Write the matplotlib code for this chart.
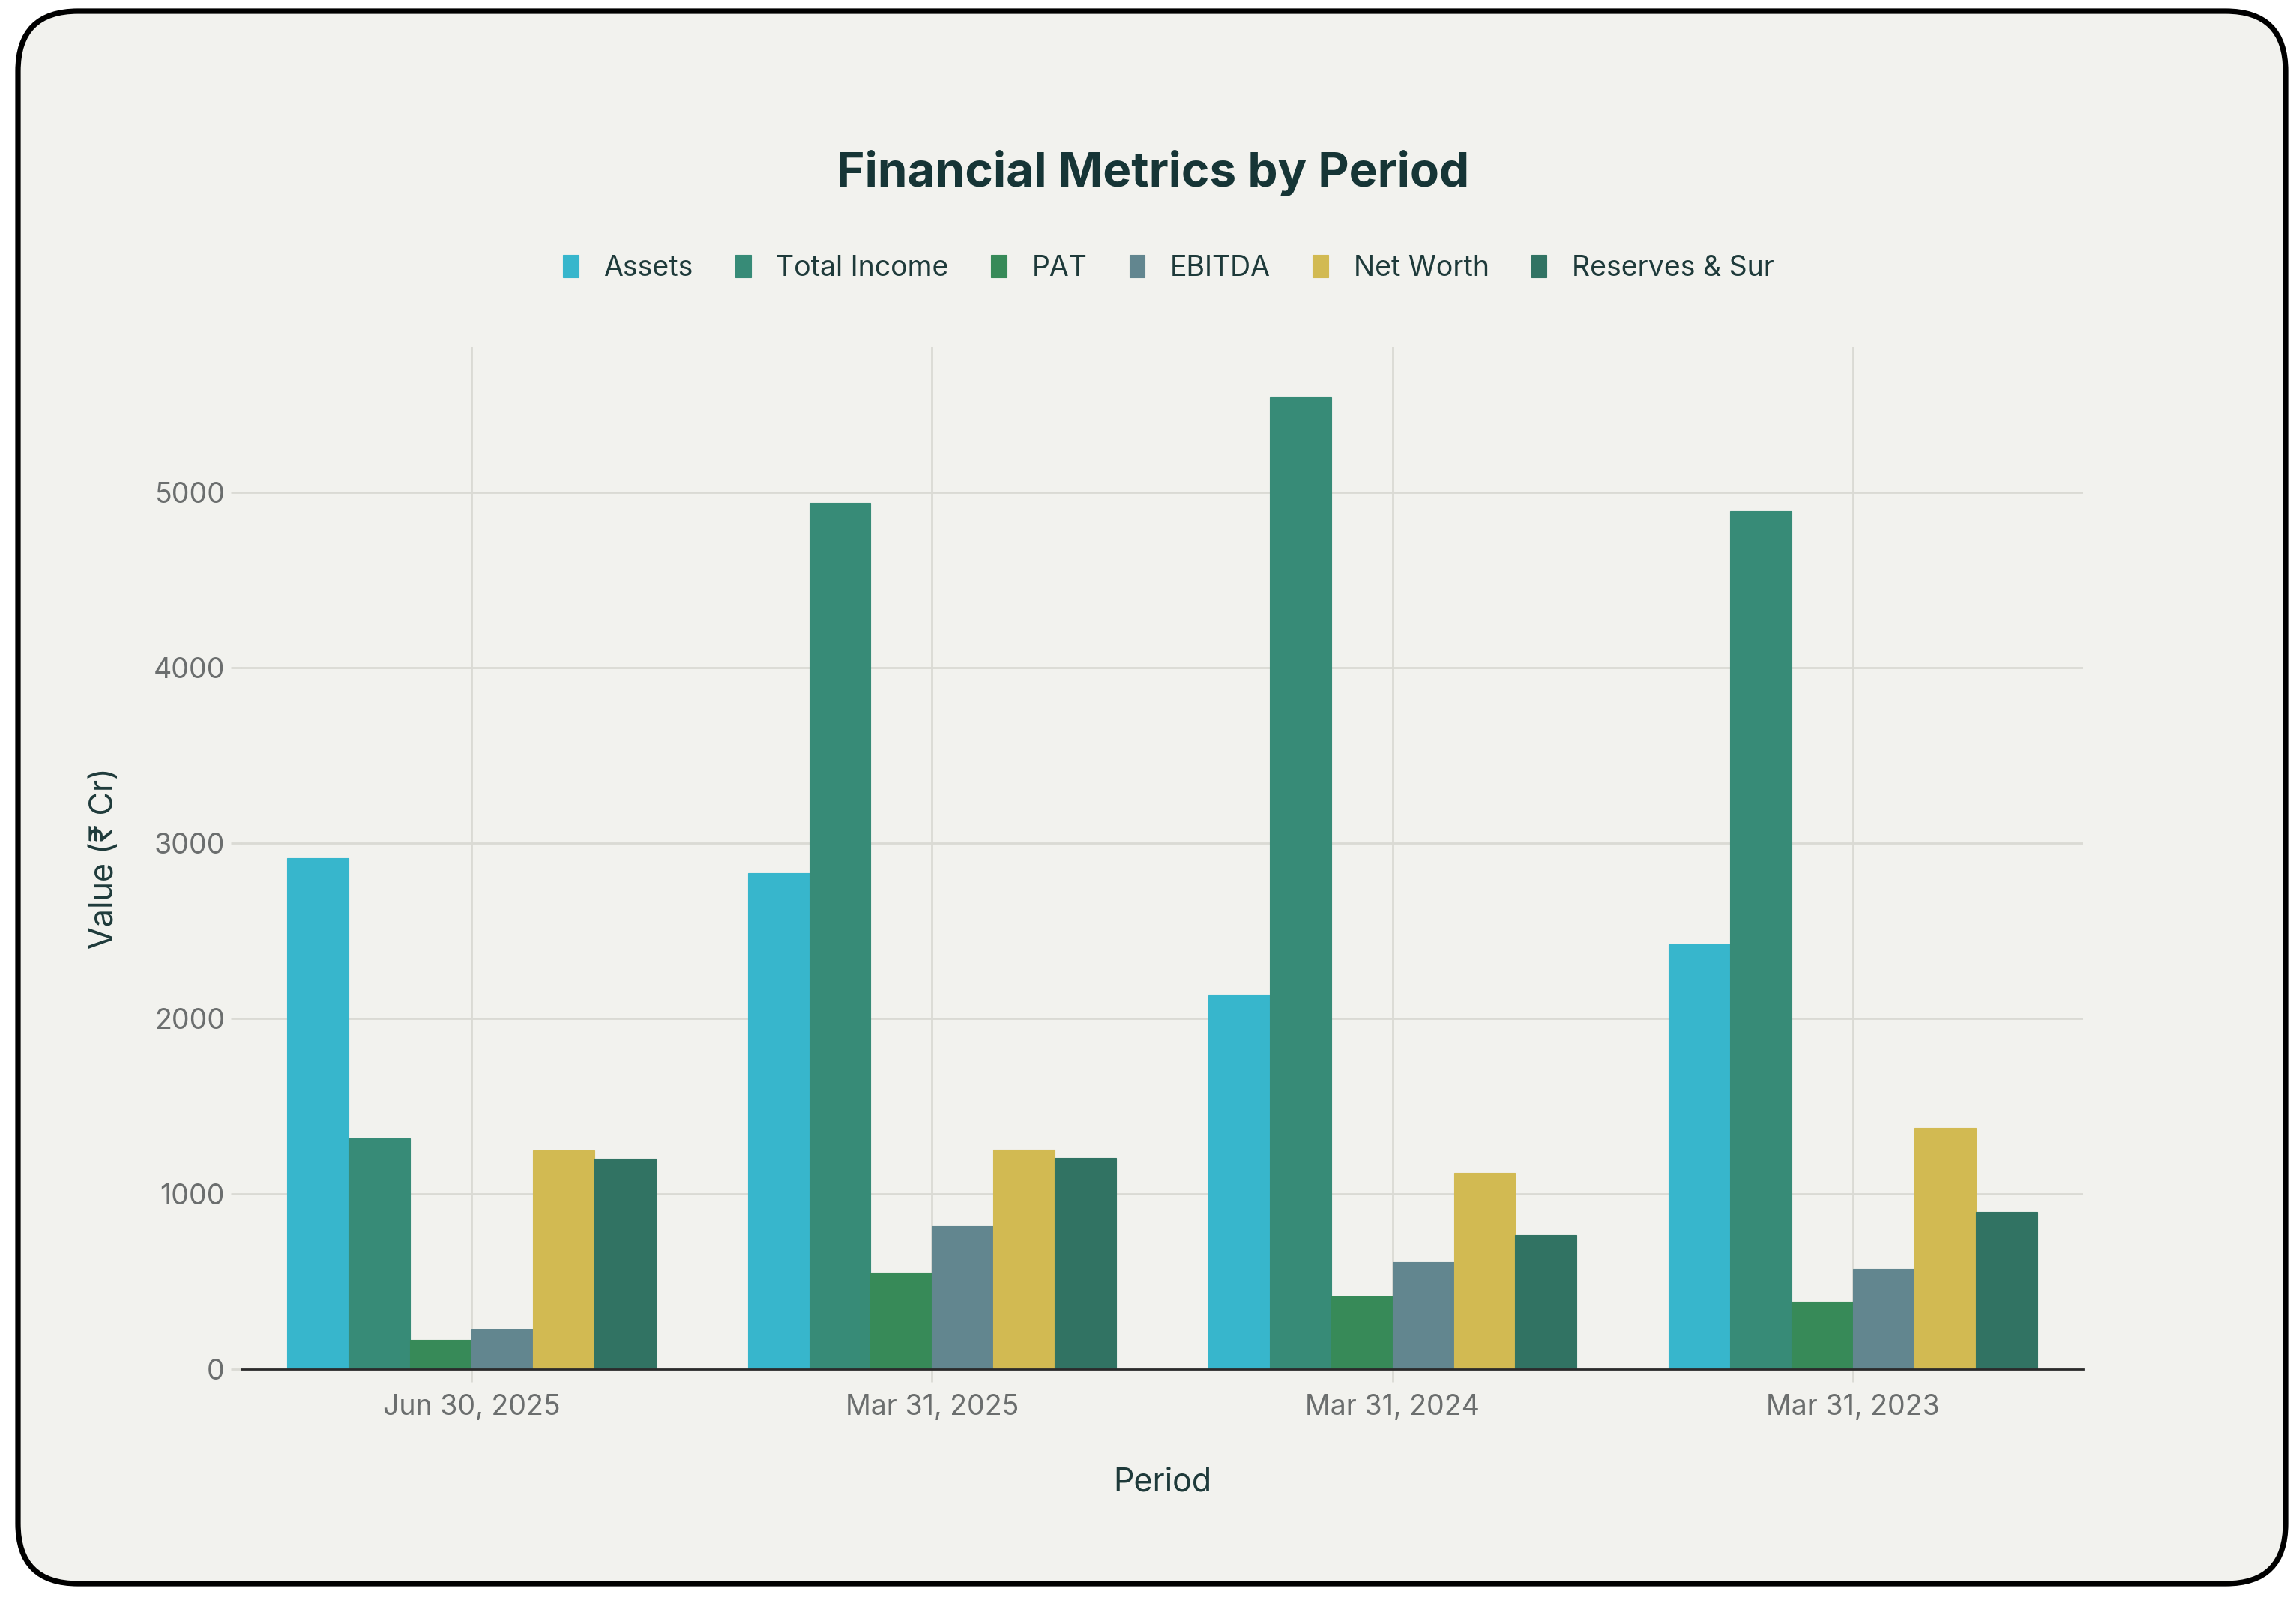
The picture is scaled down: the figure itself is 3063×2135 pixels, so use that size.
import matplotlib
matplotlib.use("Agg")
import matplotlib.pyplot as plt
import numpy as np
from matplotlib.patches import FancyBboxPatch

plt.rcParams['font.family'] = ['Inter', 'DejaVu Sans']

periods = ["Jun 30, 2025", "Mar 31, 2025", "Mar 31, 2024", "Mar 31, 2023"]
series_names = ["Assets", "Total Income", "PAT", "EBITDA", "Net Worth", "Reserves & Sur"]
assets = [2915, 2828, 2133, 2424]
total_income = [1315, 4939, 5544, 4893]
pat = [165, 550, 413, 383]
ebitda = [228, 815, 611, 572]
net_worth = [1250, 1252, 1120, 1378]
reserves = [1202, 1207, 767, 896]
series_values = [assets, total_income, pat, ebitda, net_worth, reserves]
colors = ["#37B6CC", "#378B77", "#378A58", "#62868F", "#D2BA52", "#317363"]
yticks = [0, 1000, 2000, 3000, 4000, 5000]

W, H, DPI = 3063, 2135, 200
fig = plt.figure(figsize=(W / DPI, H / DPI), dpi=DPI, facecolor="white")

bg = fig.add_axes([0, 0, 1, 1], zorder=0)
bg.set_xlim(0, W)
bg.set_ylim(0, H)
bg.axis("off")
card = FancyBboxPatch((24, 22), 3025, H - 37,
                      boxstyle="round,pad=0,rounding_size=80",
                      facecolor="#F2F2EE", edgecolor="black", linewidth=2.6)
bg.add_patch(card)

ax = fig.add_axes([322 / W, 1 - 1827 / H, (2779 - 322) / W, (1827 - 463) / H], zorder=1)
ax.set_facecolor("none")

x = np.arange(len(periods))
n = len(series_names)
group_w = 0.8
bw = group_w / n
for i, (name, vals, c) in enumerate(zip(series_names, series_values, colors)):
    offs = -group_w / 2 + bw * (i + 0.5)
    ax.bar(x + offs, vals, width=bw, color=c, label=name, zorder=3,
           edgecolor=c, linewidth=0.4)

ax.set_xlim(-0.5, len(periods) - 0.5)
ax.set_ylim(0, 5830)
ax.set_yticks(yticks)
ax.set_yticklabels([str(v) for v in yticks])
ax.set_xticks(x)
ax.set_xticklabels(periods)

grid_c = "#DADAD4"
ax.grid(True, axis="both", color=grid_c, linewidth=1.0, zorder=0)
for s in ["left", "right", "top"]:
    ax.spines[s].set_visible(False)
ax.spines["bottom"].set_color("#2b2b2b")
ax.spines["bottom"].set_linewidth(1.0)
ax.spines["bottom"].set_zorder(4)

ax.tick_params(axis="y", length=5, color=grid_c, width=1.0, pad=3,
               labelsize=13.5, labelcolor="#6b6e6e")
ax.tick_params(axis="x", length=6, color=grid_c, width=1.0, pad=6,
               labelsize=13.5, labelcolor="#6b6e6e")

ax.set_xlabel("Period", fontsize=15.5, color="#1e3a3a", labelpad=22)
ax.set_ylabel("Value (₹ Cr)", fontsize=15.5, color="#1e3a3a", labelpad=16)

fig.text(0.502, 1 - 231 / H, "Financial Metrics by Period", ha="center", va="center",
         fontsize=23, fontweight="bold", color="#163536")

handles, labels = ax.get_legend_handles_labels()
leg = fig.legend(handles, labels, loc="center", bbox_to_anchor=(0.509, 1 - 358 / H),
                 ncol=6, frameon=False, fontsize=13.5, handlelength=0.55,
                 handleheight=0.85, handletextpad=0.9, columnspacing=1.5,
                 labelcolor="#1e3a3a")

fig.savefig("out.png", dpi=DPI, facecolor="white")
